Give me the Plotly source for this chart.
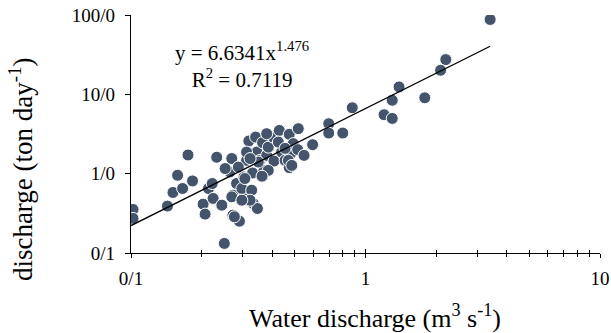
import numpy as np
import plotly.graph_objects as go

# Water discharge (m3 s-1)
water_q = [0.102, 0.102, 0.143, 0.151, 0.158, 0.166, 0.175, 0.183, 0.203, 0.207,
           0.214, 0.224, 0.232, 0.222, 0.244, 0.250, 0.272, 0.290, 0.269, 0.264,
           0.272, 0.282, 0.301, 0.297, 0.303, 0.311, 0.318, 0.330, 0.332, 0.346,
           0.327, 0.340, 0.344, 0.355, 0.364, 0.369, 0.379, 0.385, 0.404, 0.407,
           0.429, 0.439, 0.454, 0.473, 0.473, 0.480, 0.492, 0.517, 0.514, 0.547,
           0.595, 0.697, 0.697, 0.800, 0.878, 3.40, 2.20, 2.09, 1.39, 1.30,
           1.20, 1.30, 1.79, 0.269, 0.322, 0.287, 0.385, 0.469, 0.485, 0.425,
           0.311, 0.252, 0.276, 0.349, 0.306, 0.322, 0.379, 0.297, 0.362, 0.454]
# Sediment discharge (ton day-1)
sed_q = [0.354, 0.273, 0.390, 0.579, 0.955, 0.650, 1.72, 0.810, 0.413, 0.309,
         0.650, 0.487, 1.61, 0.751, 0.401, 0.132, 0.300, 0.252, 1.55, 1.05,
         0.536, 0.751, 0.487, 0.650, 0.909, 1.47, 2.58, 1.02, 0.421, 0.364,
         0.619, 2.89, 1.87, 1.47, 2.46, 1.10, 1.70, 2.16, 2.89, 1.44,
         3.51, 1.87, 1.47, 3.13, 1.19, 1.79, 2.39, 3.69, 2.01, 1.70,
         2.32, 4.26, 3.25, 3.25, 6.77, 87.8, 27.4, 20.1, 12.4, 8.43,
         5.53, 4.97, 9.04, 0.510, 0.463, 1.21, 1.10, 1.47, 1.27, 2.50,
         1.87, 1.16, 0.286, 1.40, 0.868, 1.55, 3.19, 0.463, 0.928, 2.085]

# Power trendline parameters
coef_a = 6.6341
coef_b = 1.476
r2 = 0.7119

y_tickvals = [0.1, 1, 10, 100]
y_ticktext = ["0/1", "1/0", "10/0", "100/0"]
x_tickvals = [0.1, 1, 10]
x_ticktext = ["0/1", "1", "10"]
x_minor = [k * 10 ** e for e in (-1, 0) for k in range(2, 10)]

FONT = "Liberation Serif"
MARK = "#44546A"

xt = np.logspace(np.log10(0.1), np.log10(max(water_q)), 60)
yt = coef_a * xt ** coef_b

fig = go.Figure()
fig.add_trace(go.Scatter(
    x=water_q, y=sed_q, mode="markers",
    marker=dict(size=12, color=MARK, line=dict(color="white", width=1)),
    showlegend=False, hoverinfo="skip"))
fig.add_trace(go.Scatter(
    x=xt, y=yt, mode="lines", line=dict(color="black", width=1.3),
    showlegend=False, hoverinfo="skip"))
# invisible trace for the overlaid axis (upper half of crossing ticks)
fig.add_trace(go.Scatter(x=[1], y=[1], xaxis="x2", mode="markers",
                         marker=dict(opacity=0), showlegend=False, hoverinfo="skip"))

fig.update_layout(
    width=611, height=333,
    margin=dict(l=131, r=11, t=15, b=80, autoexpand=False),
    paper_bgcolor="white", plot_bgcolor="white",
    font=dict(family=FONT, size=19, color="black"),
    xaxis=dict(type="log", range=[-1, 1], showgrid=False, zeroline=False, automargin=False,
               showline=True, linecolor="black", linewidth=1.2,
               ticks="outside", ticklen=4, tickwidth=1.2, tickcolor="black",
               tickvals=x_tickvals, ticktext=x_ticktext, ticklabelstandoff=4,
               tickfont=dict(family=FONT, size=19),
               minor=dict(ticks="outside", ticklen=3, tickwidth=1.2, tickcolor="black",
                          showgrid=False, tickvals=x_minor)),
    xaxis2=dict(type="log", range=[-1, 1], overlaying="x", anchor="y", side="bottom",
                showgrid=False, zeroline=False, showline=False, automargin=False,
                ticks="inside", ticklen=4, tickwidth=1.2, tickcolor="black",
                tickvals=x_tickvals, showticklabels=False,
                minor=dict(ticks="inside", ticklen=3, tickwidth=1.2, tickcolor="black",
                           showgrid=False, tickvals=x_minor)),
    yaxis=dict(type="log", range=[-1, 2], showgrid=False, zeroline=False, automargin=False,
               showline=True, linecolor="black", linewidth=1.2,
               ticks="outside", ticklen=5, tickwidth=1.2, tickcolor="black",
               tickvals=y_tickvals, ticktext=y_ticktext, ticklabelstandoff=6,
               tickfont=dict(family=FONT, size=19)),
)

fig.add_annotation(text="Water discharge (m<sup>3</sup> s<sup>-1</sup>)",
                   xref="paper", yref="paper", x=(375 - 131) / 469, y=(253 - 317) / 238.3,
                   showarrow=False, font=dict(family=FONT, size=26),
                   xanchor="center", yanchor="middle")
fig.add_annotation(text="discharge (ton day<sup>-1</sup>)",
                   xref="paper", yref="paper", x=(21 - 131) / 469, y=(253 - 169) / 238.3,
                   textangle=-90,
                   showarrow=False, font=dict(family=FONT, size=27),
                   xanchor="center", yanchor="middle")
fig.add_annotation(text=f"y = {coef_a}x<sup>{coef_b}</sup><br>R<sup>2</sup> = {r2}",
                   xref="paper", yref="paper", x=(242 - 131) / 469, y=(253 - 65) / 238.3,
                   showarrow=False, font=dict(family=FONT, size=21), align="center",
                   xanchor="center", yanchor="middle")

fig.write_html("out.html", config={"displayModeBar": False},
               post_script="document.body.style.margin='0px';")
